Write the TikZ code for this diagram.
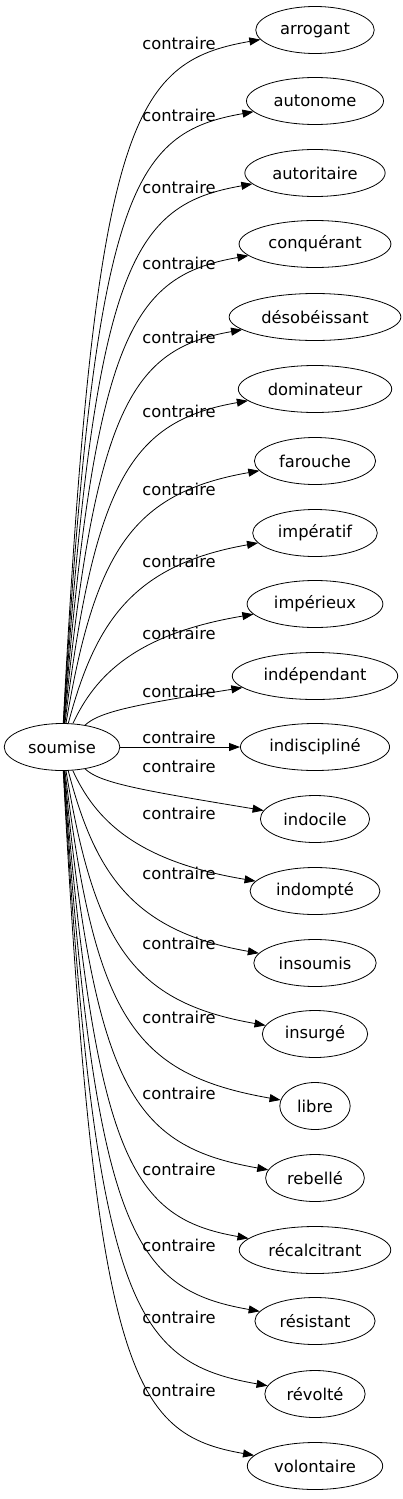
\documentclass[tikz,border=0pt]{standalone}
\usepackage{fontspec}
\setmainfont{DejaVu Sans}
\usetikzlibrary{arrows.meta,shapes.geometric}
\begin{document}
\begin{tikzpicture}[x=1pt,y=-1pt,
        word/.style={draw,ellipse,line width=0.8pt,minimum height=47pt,
            inner xsep=7pt,inner ysep=2pt,font=\fontsize{16.3}{18}\selectfont},
        lbl/.style={inner sep=0pt,font=\fontsize{16.3}{18}\selectfont},
        rel/.style={-{Triangle[length=11pt,width=8pt]},line width=0.8pt}]
    \useasboundingbox (0,0) rectangle (402,1499);

    % source word
    \node[word] (soumise) at (62,747) {soumise};

    % opposite words
    \node[word] (arrogant) at (315,30) {arrogant};
    \node[word] (autonome) at (315,101) {autonome};
    \node[word] (autoritaire) at (315,173) {autoritaire};
    \node[word] (conquerant) at (315,244) {conquérant};
    \node[word] (desobeissant) at (315,317) {désobéissant};
    \node[word] (dominateur) at (315,389) {dominateur};
    \node[word] (farouche) at (315,461) {farouche};
    \node[word] (imperatif) at (315,533) {impératif};
    \node[word] (imperieux) at (315,604) {impérieux};
    \node[word] (independant) at (315,676) {indépendant};
    \node[word] (indiscipline) at (315,747) {indiscipliné};
    \node[word] (indocile) at (315,819) {indocile};
    \node[word] (indompte) at (315,891) {indompté};
    \node[word] (insoumis) at (315,963) {insoumis};
    \node[word] (insurge) at (315,1034) {insurgé};
    \node[word] (libre) at (315,1106) {libre};
    \node[word] (rebelle) at (315,1178) {rebellé};
    \node[word] (recalcitrant) at (315,1250) {récalcitrant};
    \node[word] (resistant) at (315,1321) {résistant};
    \node[word] (revolte) at (315,1394) {révolté};
    \node[word] (volontaire) at (315,1466) {volontaire};

    % edges, upper half
    \draw[rel] (soumise) .. controls (95,120) and (132,62) .. (arrogant);
    \draw[rel] (soumise) .. controls (95,191) and (132,133) .. (autonome);
    \draw[rel] (soumise) .. controls (95,263) and (132,205) .. (autoritaire);
    \draw[rel] (soumise) .. controls (95,334) and (132,276) .. (conquerant);
    \draw[rel] (soumise) .. controls (95,407) and (132,349) .. (desobeissant);
    \draw[rel] (soumise) .. controls (95,479) and (132,421) .. (dominateur);
    \draw[rel] (soumise) .. controls (95,551) and (132,493) .. (farouche);
    \draw[rel] (soumise) .. controls (95,623) and (132,565) .. (imperatif);
    \draw[rel] (soumise) .. controls (95,676) and (135,634) .. (imperieux);
    \draw[rel] (soumise) .. controls (100,711) and (140,704) .. (independant);
    \draw[rel] (soumise) -- (indiscipline);
    % edges, lower half
    \draw[rel] (soumise) .. controls (100,783) and (140,790) .. (indocile);
    \draw[rel] (soumise) .. controls (95,819) and (135,861) .. (indompte);
    \draw[rel] (soumise) .. controls (95,873) and (132,931) .. (insoumis);
    \draw[rel] (soumise) .. controls (95,944) and (132,1002) .. (insurge);
    \draw[rel] (soumise) .. controls (95,1016) and (132,1074) .. (libre);
    \draw[rel] (soumise) .. controls (95,1088) and (132,1146) .. (rebelle);
    \draw[rel] (soumise) .. controls (95,1160) and (132,1218) .. (recalcitrant);
    \draw[rel] (soumise) .. controls (95,1231) and (132,1289) .. (resistant);
    \draw[rel] (soumise) .. controls (95,1304) and (132,1362) .. (revolte);
    \draw[rel] (soumise) .. controls (95,1376) and (132,1434) .. (volontaire);

    % edge labels
    \node[lbl] (l1) at (179,43) {contraire};
    \node[lbl] (l2) at (179,115) {contraire};
    \node[lbl] (l3) at (179,187) {contraire};
    \node[lbl] (l4) at (179,263) {contraire};
    \node[lbl] (l5) at (179,337) {contraire};
    \node[lbl] (l6) at (179,411) {contraire};
    \node[lbl] (l7) at (179,489) {contraire};
    \node[lbl] (l8) at (179,561) {contraire};
    \node[lbl] (l9) at (179,633) {contraire};
    \node[lbl] (l10) at (179,691) {contraire};
    \node[lbl] (l11) at (179,737) {contraire};
    \node[lbl] (l12) at (179,766) {contraire};
    \node[lbl] (l13) at (179,813) {contraire};
    \node[lbl] (l14) at (179,873) {contraire};
    \node[lbl] (l15) at (179,943) {contraire};
    \node[lbl] (l16) at (179,1017) {contraire};
    \node[lbl] (l17) at (179,1093) {contraire};
    \node[lbl] (l18) at (179,1169) {contraire};
    \node[lbl] (l19) at (179,1245) {contraire};
    \node[lbl] (l20) at (179,1317) {contraire};
    \node[lbl] (l21) at (179,1390) {contraire};
\end{tikzpicture}
\end{document}
